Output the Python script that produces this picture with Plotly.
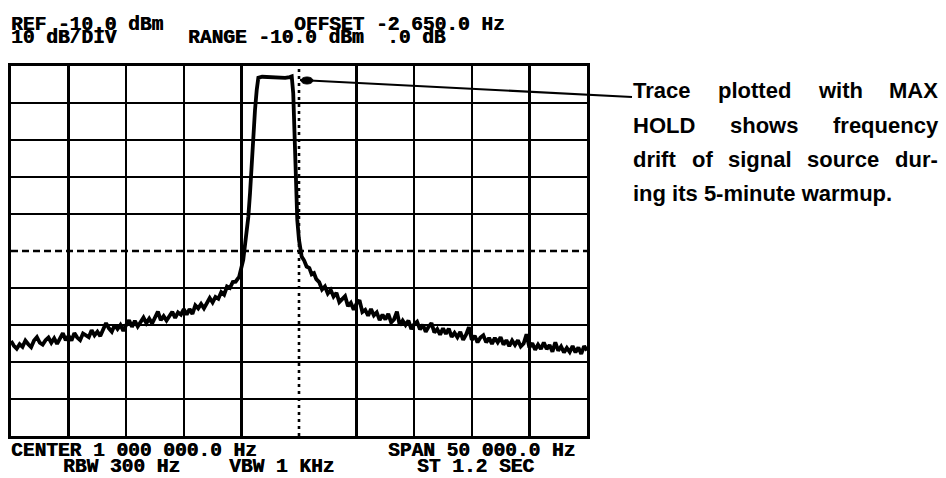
import plotly.graph_objects as go

# ---------------- data ----------------
center_khz = 1000.0
span_khz = 50.0
ref_dbm = -10.0
db_per_div = 10.0
n_div = 10

# noisy floor left of the carrier (kHz, dBm)
freq_left = [
    975.00, 975.25, 975.50, 975.75, 976.00, 976.25, 976.50, 976.75, 977.00, 977.25,
    977.50, 977.75, 978.00, 978.25, 978.50, 978.75, 979.00, 979.25, 979.50, 979.75,
    980.00, 980.25, 980.50, 980.75, 981.00, 981.25, 981.50, 981.75, 982.00, 982.25,
    982.50, 982.75, 983.00, 983.25, 983.50, 983.75, 984.00, 984.25, 984.50, 984.75,
    985.00, 985.25, 985.50, 985.75, 986.00, 986.25, 986.50, 986.75, 987.00, 987.25,
    987.50, 987.75, 988.00, 988.25, 988.50, 988.75, 989.00, 989.25, 989.50, 989.75,
    990.00, 990.25, 990.50, 990.75, 991.00, 991.25, 991.50, 991.75, 992.00, 992.25,
    992.50, 992.75, 993.00, 993.25, 993.50, 993.75, 994.00, 994.25, 994.50,
]
level_left = [
    -84.3, -85.6, -86.4, -85.2, -85.9, -84.2, -85.2, -86.0, -84.2, -83.3,
    -84.8, -85.3, -84.1, -83.4, -84.8, -83.6, -85.1, -83.7, -82.2, -84.1,
    -82.9, -84.2, -82.2, -83.4, -84.1, -82.3, -82.7, -83.3, -81.4, -82.8,
    -81.8, -83.0, -81.2, -79.5, -80.9, -81.8, -80.0, -81.1, -80.0, -81.6,
    -80.0, -78.7, -80.5, -78.9, -80.4, -79.1, -78.0, -79.5, -78.3, -79.6,
    -77.8, -76.4, -78.7, -77.6, -78.8, -77.5, -76.4, -78.1, -76.6, -77.2,
    -75.7, -77.2, -75.7, -77.0, -74.7, -75.5, -74.3, -75.5, -73.9, -72.7,
    -73.9, -72.4, -72.9, -71.1, -71.8, -69.6, -70.0, -68.4, -68.3,
]

# carrier (MAX HOLD plateau) and its skirts
freq_peak = [
    994.80, 995.16, 995.46, 995.60, 995.75, 995.90, 996.03, 996.18, 996.33, 996.47,
    996.80, 997.30, 997.80, 998.30, 998.80, 999.20, 999.37,
    999.50, 999.60, 999.68, 999.77, 999.85, 1000.00, 1000.23, 1000.45, 1000.66,
    1000.90, 1001.10, 1001.30, 1001.50, 1001.75,
]
level_peak = [
    -67.0, -62.4, -55.1, -50.8, -44.3, -35.4, -28.1, -21.9, -16.5, -13.2,
    -12.9, -13.0, -13.1, -13.1, -13.2, -13.0, -12.8,
    -17.4, -26.4, -35.4, -44.3, -51.6, -57.0, -61.5, -62.6, -64.2,
    -64.6, -66.3, -66.0, -67.6, -68.4,
]

# noisy floor right of the carrier
freq_right = [
    1002.00, 1002.25, 1002.50, 1002.75, 1003.00, 1003.25, 1003.50, 1003.75, 1004.00, 1004.25,
    1004.50, 1004.75, 1005.00, 1005.25, 1005.50, 1005.75, 1006.00, 1006.25, 1006.50, 1006.75,
    1007.00, 1007.25, 1007.50, 1007.75, 1008.00, 1008.25, 1008.50, 1008.75, 1009.00, 1009.25,
    1009.50, 1009.75, 1010.00, 1010.25, 1010.50, 1010.75, 1011.00, 1011.25, 1011.50, 1011.75,
    1012.00, 1012.25, 1012.50, 1012.75, 1013.00, 1013.25, 1013.50, 1013.75, 1014.00, 1014.25,
    1014.50, 1014.75, 1015.00, 1015.25, 1015.50, 1015.75, 1016.00, 1016.25, 1016.50, 1016.75,
    1017.00, 1017.25, 1017.50, 1017.75, 1018.00, 1018.25, 1018.50, 1018.75, 1019.00, 1019.25,
    1019.50, 1019.75, 1020.00, 1020.25, 1020.50, 1020.75, 1021.00, 1021.25, 1021.50, 1021.75,
    1022.00, 1022.25, 1022.50, 1022.75, 1023.00, 1023.25, 1023.50, 1023.75, 1024.00, 1024.25,
    1024.50, 1024.75, 1025.00,
]
level_right = [
    -70.4, -69.6, -71.5, -70.5, -72.3, -71.3, -73.8, -73.0, -72.2, -74.9,
    -74.0, -75.9, -74.2, -73.3, -76.5, -75.9, -77.5, -75.7, -77.4, -76.6,
    -78.7, -77.2, -78.5, -77.0, -79.3, -78.5, -76.4, -80.1, -78.8, -80.0,
    -78.8, -81.1, -79.8, -79.1, -81.2, -79.9, -81.8, -80.5, -79.5, -82.0,
    -81.1, -82.6, -80.9, -82.4, -81.0, -83.2, -82.1, -83.3, -81.9, -84.0,
    -82.6, -80.6, -84.0, -82.9, -84.7, -83.4, -82.8, -84.7, -83.5, -85.1,
    -83.5, -84.7, -83.3, -85.3, -84.1, -85.7, -84.2, -85.4, -84.1, -85.8,
    -85.0, -82.5, -86.1, -84.9, -86.7, -85.3, -86.5, -84.7, -86.5, -85.4,
    -87.2, -84.7, -86.9, -85.8, -87.4, -86.2, -87.3, -85.7, -87.4, -86.1,
    -87.8, -85.7, -86.9,
]

header_line1 = ["REF -10.0 dBm", "OFFSET -2 650.0 Hz"]
header_line2 = ["10 dB/DIV", "RANGE -10.0 dBm  .0 dB"]
footer_line1 = ["CENTER 1 000 000.0 Hz", "SPAN 50 000.0 Hz"]
footer_line2 = ["RBW 300 Hz", "VBW 1 KHz", "ST 1.2 SEC"]
note_lines = [
    "Trace plotted with MAX",
    "HOLD shows frequency",
    "drift of signal source dur-",
    "ing its 5-minute warmup.",
]

# ---------------- layout helpers ----------------
W, H = 946, 478
ML, MT, PW, PH = 11, 66, 576, 370
MR = W - ML - PW
MB = H - MT - PH


def px2paper(px, py):
    return (px - ML) / PW, (MT + PH - py) / PH


x_lo = center_khz - span_khz / 2
x_hi = center_khz + span_khz / 2
y_hi = ref_dbm
y_lo = ref_dbm - db_per_div * n_div
x_step = span_khz / n_div
x_grid = [x_lo + i * x_step for i in range(n_div + 1) if i != n_div // 2]
y_grid = [y_lo + i * db_per_div for i in range(n_div + 1) if i != n_div // 2]

freq_khz = freq_left + freq_peak + freq_right
level_dbm = level_left + level_peak + level_right

fig = go.Figure()
fig.add_trace(go.Scatter(
    x=freq_khz, y=level_dbm, mode="lines",
    line=dict(color="black", width=3.8), hoverinfo="skip", showlegend=False,
))

axis_common = dict(
    showgrid=True, gridcolor="black", gridwidth=2.4,
    showticklabels=False, ticks="", zeroline=False,
    showline=True, linecolor="black", linewidth=3, mirror=True,
    tickmode="array",
)
fig.update_xaxes(range=[x_lo, x_hi], tickvals=x_grid, **axis_common)
fig.update_yaxes(range=[y_lo, y_hi], tickvals=y_grid, **axis_common)

shapes = [
    dict(type="line", xref="x", yref="y", x0=center_khz, x1=center_khz, y0=y_lo, y1=y_hi,
         line=dict(color="black", width=2.6, dash="3px,4px"), layer="between"),
    dict(type="line", xref="x", yref="y", x0=x_lo, x1=x_hi,
         y0=(y_lo + y_hi) / 2, y1=(y_lo + y_hi) / 2,
         line=dict(color="black", width=2.6, dash="7px,4px"), layer="between"),
]
# leader line from the trace to the note
lx0, ly0 = px2paper(300, 80)
lx1, ly1 = px2paper(632, 97)
shapes.append(dict(type="line", xref="paper", yref="paper", x0=lx0, y0=ly0, x1=lx1, y1=ly1,
                   line=dict(color="black", width=2.2), layer="above"))
dx0, dy0 = px2paper(301, 84)
dx1, dy1 = px2paper(313, 77)
shapes.append(dict(type="circle", xref="paper", yref="paper", x0=dx0, y0=dy0, x1=dx1, y1=dy1,
                   fillcolor="black", line=dict(color="black", width=1), layer="above"))
fig.update_layout(shapes=shapes)

annotations = []
MONO = dict(family="Liberation Mono", size=19.5, color="black", weight="bold",
            shadow="0.6px 0px 0px black")


def add_text(txt, px, baseline, font, asc_desc_shift, xanchor="left"):
    x, y = px2paper(px, baseline - asc_desc_shift)
    annotations.append(dict(text=txt, x=x, y=y, xref="paper", yref="paper",
                            xanchor=xanchor, yanchor="middle", showarrow=False,
                            font=font, borderpad=0))


mono_shift = 0.2665 * MONO["size"]
add_text(header_line1[0], 10, 30, MONO, mono_shift)
add_text(header_line1[1], 293, 30, MONO, mono_shift)
add_text(header_line2[0], 10, 43.5, MONO, mono_shift)
add_text(header_line2[1], 187, 43.5, MONO, mono_shift)
add_text(footer_line1[0], 10, 456, MONO, mono_shift)
add_text(footer_line1[1], 387, 456, MONO, mono_shift)
add_text(footer_line2[0], 62, 472, MONO, mono_shift)
add_text(footer_line2[1], 228, 472, MONO, mono_shift)
add_text(footer_line2[2], 416, 472, MONO, mono_shift)

# justified note text (Arial-bold metrics for spacing)
SANS = dict(family="Liberation Sans", size=22, color="black", weight="bold")
CW = {" ": 278, "-": 333, ".": 278, "5": 556, "a": 556, "c": 556, "d": 611, "e": 556,
      "f": 333, "g": 611, "h": 611, "i": 278, "l": 278, "m": 889, "n": 611, "o": 611,
      "p": 611, "q": 611, "r": 389, "s": 556, "t": 333, "u": 611, "w": 778, "y": 556,
      "A": 722, "D": 722, "H": 722, "L": 611, "M": 833, "O": 778, "T": 611, "X": 667}


def wlen(s):
    return sum(CW.get(c, 556) for c in s) / 1000 * SANS["size"]


note_left, note_right = 632, 937
note_baselines = [98, 133, 167, 201]
sans_shift = 0.3465 * SANS["size"]
for i, line in enumerate(note_lines):
    if i < len(note_lines) - 1:
        words = line.split(" ")
        total = sum(wlen(w) for w in words)
        gap = (note_right - note_left - total) / (len(words) - 1)
        xpos = note_left
        for w in words:
            add_text(w, xpos, note_baselines[i], SANS, sans_shift)
            xpos += wlen(w) + gap
    else:
        add_text(line, note_left, note_baselines[i], SANS, sans_shift)

fig.update_layout(
    width=W, height=H,
    margin=dict(l=ML, r=MR, t=MT, b=MB, pad=0),
    paper_bgcolor="white", plot_bgcolor="white",
    annotations=annotations, showlegend=False,
)

fig.write_html(
    "out.html",
    config={"displayModeBar": False, "staticPlot": True},
    post_script="document.body.style.margin='0';document.body.style.padding='0';"
                "document.body.style.overflow='hidden';",
)
